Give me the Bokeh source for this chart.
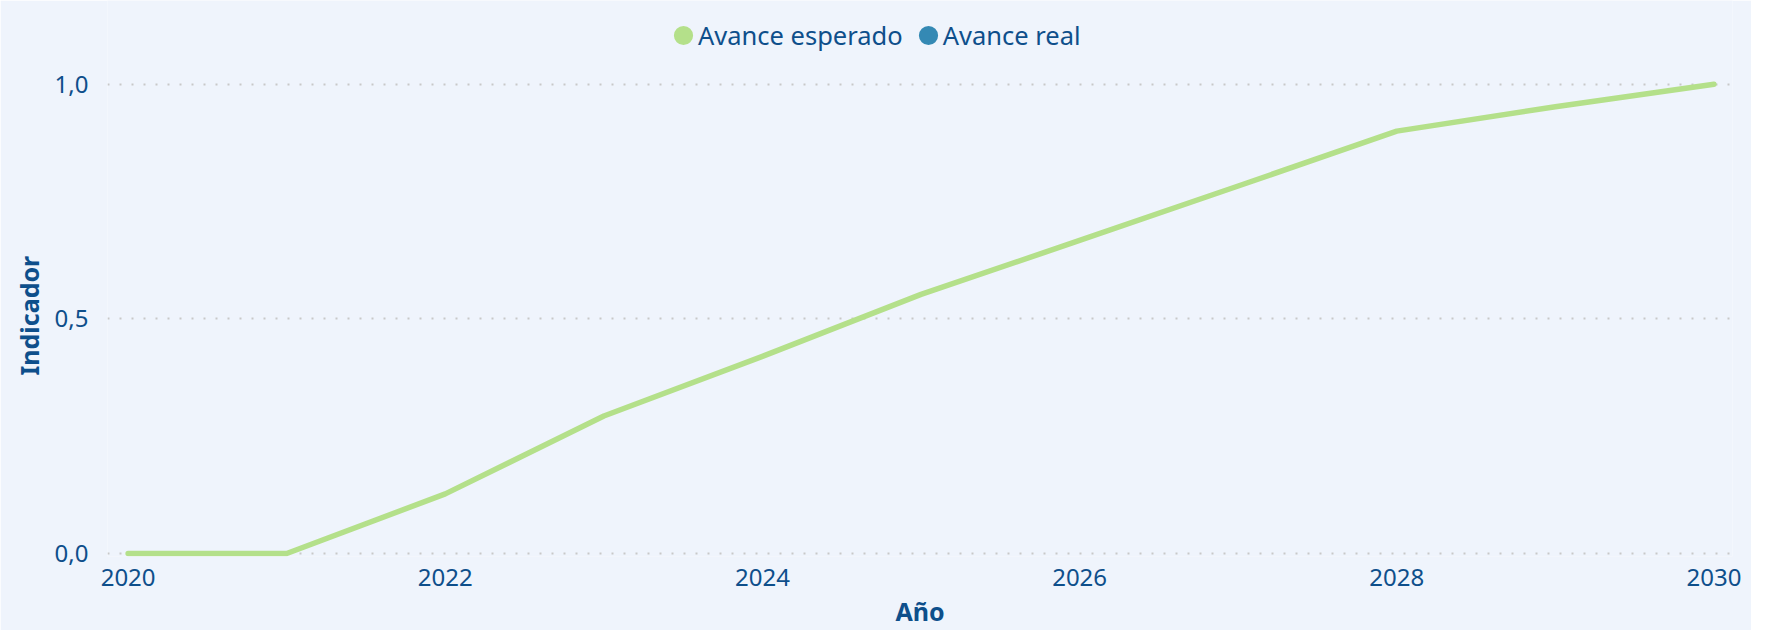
from bokeh.plotting import figure
from bokeh.models import Range1d, FixedTicker, Legend, LegendItem, ColumnDataSource, Title
from bokeh.embed import file_html
from bokeh.resources import INLINE

# ---- data ----
years = [2020, 2021, 2022, 2023, 2024, 2025, 2026, 2027, 2028, 2029, 2030]
avance_esperado = [0.0, 0.0, 0.127, 0.293, 0.42, 0.552, 0.667, 0.783, 0.9, 0.952, 1.0]
real_years = []
avance_real = []
series_names = ["Avance esperado", "Avance real"]
x_ticks = [2020, 2022, 2024, 2026, 2028, 2030]
y_ticks = [0.0, 0.5, 1.0]
y_tick_labels = ["0,0", "0,5", "1,0"]
x_title = "Año"
y_title = "Indicador"

# ---- style ----
BG = "#eff4fc"
EDGE = "#e1ebfb"
TXT = "#0e4f8b"
GREEN = "#b4e08a"
BLUE = "#3489b4"
FONT = "Noto Sans"

p = figure(width=1751, height=630, output_backend="svg", toolbar_location=None,
           x_range=Range1d(2019.87, 2030.117), y_range=Range1d(-0.0064, 1.1783),
           min_border_left=107, min_border_right=19, min_border_top=0,
           min_border_bottom=72)
p.background_fill_color = BG
p.border_fill_color = BG
p.outline_line_color = None

src = ColumnDataSource(dict(x=years, y=avance_esperado))
p.line("x", "y", source=src, line_color=GREEN, line_width=5.5,
       line_cap="round", line_join="round")

real_src = ColumnDataSource(dict(x=real_years, y=avance_real))
p.line("x", "y", source=real_src, line_color=BLUE, line_width=5.5)

# legend icon renderers (vanishingly small ellipses, only their legend icon shows)
leg_g = p.ellipse("x", "y", source=src, width=0.01, height=0.01,
                  width_units="screen", height_units="screen",
                  fill_color=GREEN, line_color=None)
leg_b = p.ellipse("x", "y", source=src, width=0.01, height=0.01,
                  width_units="screen", height_units="screen",
                  fill_color=BLUE, line_color=None)

legend = Legend(items=[LegendItem(label=series_names[0], renderers=[leg_g]),
                       LegendItem(label=series_names[1], renderers=[leg_b])],
                orientation="horizontal", location=(564, 504),
                glyph_width=24, glyph_height=24, label_standoff=3, spacing=13,
                padding=0, margin=0, border_line_color=None,
                background_fill_alpha=0,
                label_text_font=FONT, label_text_font_size="25.5px",
                label_text_color=TXT)
p.add_layout(legend, "center")

# axes
p.xaxis.ticker = FixedTicker(ticks=x_ticks)
p.yaxis.ticker = FixedTicker(ticks=y_ticks)
p.yaxis.major_label_overrides = {v: s for v, s in zip(y_ticks, y_tick_labels)}
for ax in (p.xaxis[0], p.yaxis[0]):
    ax.axis_line_color = None
    ax.major_tick_line_color = None
    ax.minor_tick_line_color = None
    ax.major_tick_out = 0
    ax.major_tick_in = 0
    ax.major_label_text_font = FONT
    ax.major_label_text_font_size = "24px"
    ax.major_label_text_color = TXT
    ax.axis_label_text_font = FONT
    ax.axis_label_text_font_size = "25px"
    ax.axis_label_text_font_style = "bold"
    ax.axis_label_text_color = TXT
p.xaxis.axis_label = x_title
p.xaxis.major_label_standoff = 12
p.xaxis.axis_label_standoff = 5
p.yaxis.major_label_standoff = 19

# y-axis title, centred on the 0..1 span rather than the whole frame
ytitle = Title(text=y_title, align="left", offset=181, standoff=12,
               text_font=FONT, text_font_size="25px", text_font_style="bold",
               text_color=TXT)
p.add_layout(ytitle, "left")

p.xgrid.grid_line_color = None
p.ygrid.grid_line_color = "#c8c8c8"
p.ygrid.grid_line_width = 2
p.ygrid.grid_line_dash = "2 10"

html = file_html(p, INLINE)
html = html.replace("<body>", '<body style="background:%s;margin:0 0 0 4px">' % EDGE, 1)
open("out.html", "w").write(html)
